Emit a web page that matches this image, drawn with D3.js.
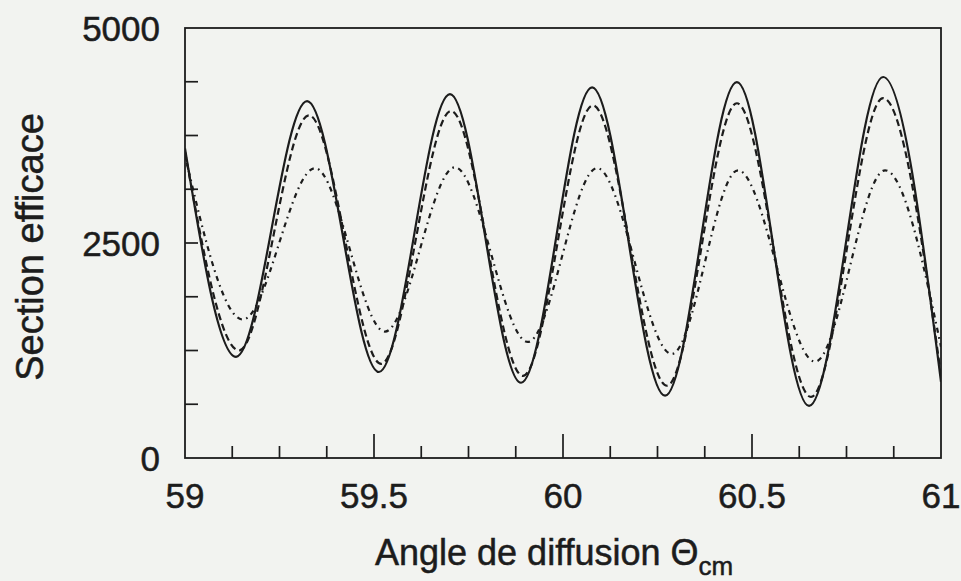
<!DOCTYPE html>
<html>
<head>
<meta charset="utf-8">
<script src="https://cdn.jsdelivr.net/npm/d3@7"></script>
<style>
  html, body { margin: 0; padding: 0; background: #f2f3f0; }
  svg { display: block; }
  text { font-family: "Liberation Sans", Arial, Helvetica, sans-serif; fill: #1c1c1c; stroke: #1c1c1c; stroke-width: 0.5px; }
</style>
</head>
<body>
<svg id="chart" width="961" height="581"></svg>
<script>
// Cross-section vs. scattering angle: three calculations, turning points of each curve.
const solidAngle   = [59.000, 59.135, 59.323, 59.513, 59.701, 59.889, 60.077, 60.270, 60.460, 60.651, 60.847, 61.000];
const solidValue   = [3600,   1177,   4150,   1000,   4230,   875,    4310,   725,    4370,   605,    4430,   886];

const dashedAngle  = [59.000, 59.143, 59.328, 59.519, 59.704, 59.894, 60.079, 60.275, 60.460, 60.656, 60.847, 61.000];
const dashedValue  = [3560,   1250,   3985,   1095,   4035,   955,    4100,   840,    4125,   710,    4185,   960];

const dashDotAngle = [59.000, 59.153, 59.344, 59.529, 59.714, 59.907, 60.090, 60.288, 60.463, 60.667, 60.852, 61.000];
const dashDotValue = [3520,   1610,   3370,   1470,   3380,   1350,   3370,   1210,   3345,   1120,   3345,   1294];

const xTickValues  = [59, 59.125, 59.25, 59.375, 59.5, 59.625, 59.75, 59.875, 60, 60.125, 60.25, 60.375, 60.5, 60.625, 60.75, 60.875, 61];
const xTickLabels  = ["59", "59.5", "60", "60.5", "61"];
const yTickValues  = [0, 625, 1250, 1875, 2500, 3125, 3750, 4375, 5000];
const yTickLabels  = ["0", "2500", "5000"];

const svg = d3.select("#chart");
const plotL = 185, plotR = 941, plotT = 28, plotB = 458;

const x = d3.scaleLinear().domain([59, 61]).range([plotL, plotR]);
const y = d3.scaleLinear().domain([0, 5000]).range([plotB, plotT]);

const ink = "#1c1c1c";

// inward ticks on the left and bottom edges
const majorX = new Set(["59.5", "60", "60.5"]);
svg.append("g").selectAll("line")
  .data(xTickValues.slice(1, -1))
  .join("line")
  .attr("x1", d => x(d)).attr("x2", d => x(d))
  .attr("y1", plotB)
  .attr("y2", d => plotB - (majorX.has(String(d)) ? 24 : 12))
  .attr("stroke", ink).attr("stroke-width", 1.7);

svg.append("g").selectAll("line")
  .data(yTickValues.slice(1, -1))
  .join("line")
  .attr("x1", plotL).attr("x2", plotL + 13)
  .attr("y1", d => y(d)).attr("y2", d => y(d))
  .attr("stroke", ink).attr("stroke-width", 1.7);

// tick labels
svg.append("g").selectAll("text")
  .data(xTickLabels)
  .join("text")
  .attr("x", d => x(+d))
  .attr("y", 508)
  .attr("text-anchor", "middle")
  .attr("font-size", 35)
  .text(d => d);

svg.append("g").selectAll("text")
  .data(yTickLabels)
  .join("text")
  .attr("x", 160)
  .attr("y", d => y(+d))
  .attr("dy", "0.36em")
  .attr("text-anchor", "end")
  .attr("font-size", 35)
  .text(d => d);

// curves
svg.append("clipPath").attr("id", "plotArea")
  .append("rect").attr("x", plotL).attr("y", plotT).attr("width", plotR - plotL).attr("height", plotB - plotT);

const line = d3.line()
  .x(d => x(d[0]))
  .y(d => y(d[1]))
  .curve(d3.curveMonotoneX);

const series = [
  { angle: dashDotAngle, value: dashDotValue, dash: "5,4.5,1.6,4.5" },
  { angle: dashedAngle,  value: dashedValue,  dash: "7,4" },
  { angle: solidAngle,   value: solidValue,   dash: null }
];

svg.append("g").attr("clip-path", "url(#plotArea)")
  .selectAll("path")
  .data(series)
  .join("path")
  .attr("d", s => line(s.angle.map((a, i) => [a, s.value[i]])))
  .attr("fill", "none")
  .attr("stroke", ink)
  .attr("stroke-width", 2.2)
  .attr("stroke-dasharray", s => s.dash);

// frame
svg.append("rect")
  .attr("x", plotL).attr("y", plotT)
  .attr("width", plotR - plotL).attr("height", plotB - plotT)
  .attr("fill", "none").attr("stroke", ink).attr("stroke-width", 1.8);

// axis titles
const xt = svg.append("text")
  .attr("x", 375).attr("y", 565)
  .attr("font-size", 36);
xt.append("tspan").text("Angle de diffusion Θ");
xt.append("tspan").attr("font-size", 26).attr("dy", 10).text("cm");

svg.append("text")
  .attr("transform", "translate(43,247) rotate(-90)")
  .attr("text-anchor", "middle")
  .attr("font-size", 38)
  .text("Section efficace");
</script>
</body>
</html>
